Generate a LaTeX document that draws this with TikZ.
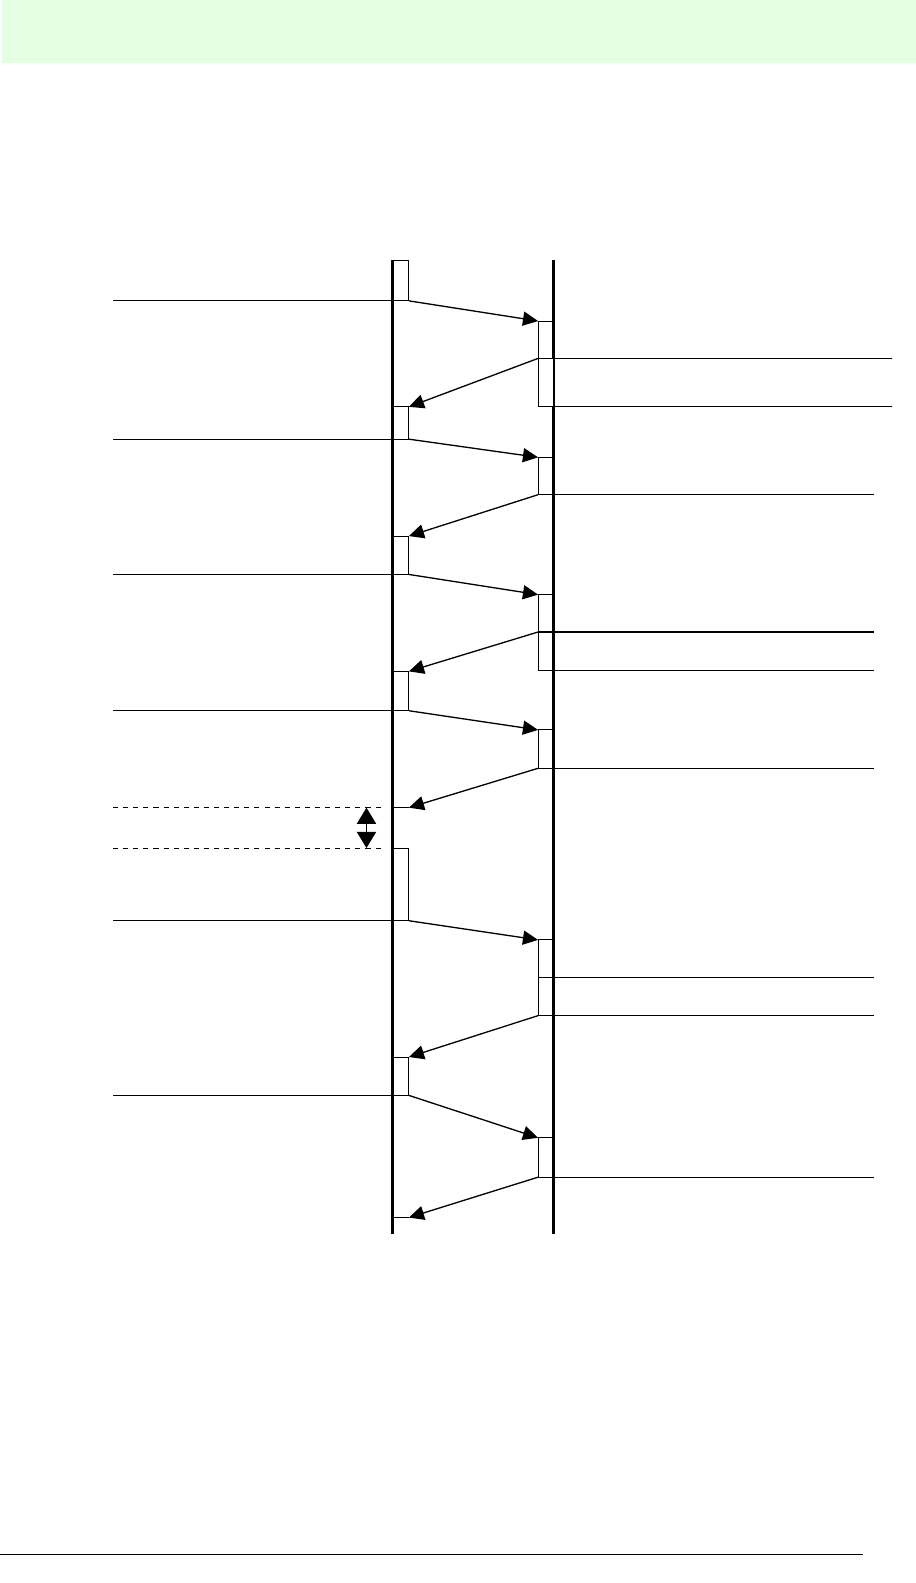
\documentclass[tikz,border=0pt]{standalone}
\usetikzlibrary{arrows.meta}
\definecolor{hdr}{RGB}{226,255,226}
\begin{document}
\begin{tikzpicture}[x=1pt,y=-1pt,
  lifeline/.style={line width=2.8pt},
  actbox/.style={draw,line width=1pt,minimum width=16pt,inner sep=0pt,outer sep=0pt,anchor=north west},
  rbox/.style={actbox,minimum width=15pt},
  msg/.style={line width=1.3pt,-{Triangle[length=15pt,width=14pt]}},
  tick/.style={line width=1pt},
  dline/.style={line width=1pt,dash pattern=on 5pt off 5pt}]
\useasboundingbox (0,0) rectangle (907,1568);
\fill[hdr] (2,0) rectangle (907,62);
\draw[line width=1.3pt] (0,1540) -- (855,1540);
% left activation boxes
\node[actbox,minimum height=40pt] (L1) at (389,258) {};
\node[actbox,minimum height=32pt] (L2) at (389,403) {};
\node[actbox,minimum height=38pt] (L3) at (389,531) {};
\node[actbox,minimum height=39pt] (L4) at (389,665) {};
\node[actbox,minimum height=72pt] (L5) at (389,840) {};
\node[actbox,minimum height=38pt] (L6) at (389,1047) {};
% right activation boxes
\node[rbox,minimum height=37pt] (R1a) at (533,318) {};
\node[rbox,minimum height=37pt] (R2) at (533,453) {};
\node[rbox,minimum height=37pt] (R3a) at (533,589) {};
\node[rbox,minimum height=38pt] (R3b) at (533,626) {};
\node[rbox,minimum height=38pt] (R4) at (533,723) {};
\node[rbox,minimum height=37pt] (R5a) at (533,931) {};
\node[rbox,minimum height=38pt] (R5b) at (533,968) {};
\node[rbox,minimum height=39pt] (R6) at (533,1127) {};
% lifelines
\coordinate (Lt) at (389,258); \coordinate (Lb) at (389,1222);
\coordinate (Rt) at (548,258); \coordinate (Rb) at (548,1222);
\draw[lifeline] (Lt) -- (Lb);
\draw[lifeline] (Rt) -- (Rb);
\node[rbox,fill=white,minimum height=48pt] (R1b) at (533,355) {};
% free ends
\coordinate (E1) at (405,800); \coordinate (E1l) at (389,800);
\coordinate (E2) at (405,1206); \coordinate (E2l) at (389,1206);
\draw[tick] (E1l) -- (E1);
\draw[tick] (E2l) -- (E2);
% messages
\draw[msg] (L1.south east) -- (R1a.north west);
\draw[msg] (R1a.south west) -- (L2.north east);
\draw[msg] (L2.south east) -- (R2.north west);
\draw[msg] (R2.south west) -- (L3.north east);
\draw[msg] (L3.south east) -- (R3a.north west);
\draw[msg] (R3a.south west) -- (L4.north east);
\draw[msg] (L4.south east) -- (R4.north west);
\draw[msg] (R4.south west) -- (E1);
\draw[msg] (L5.south east) -- (R5a.north west);
\draw[msg] (R5b.south west) -- (L6.north east);
\draw[msg] (L6.south east) -- (R6.north west);
\draw[msg] (R6.south west) -- (E2);
% left leader lines
\foreach \n in {L1,L2,L3,L4,L5,L6} {
  \coordinate (\n x) at (\n.south west -| 112,0);
  \draw[tick] (\n x) -- (\n.south west);
}
% right leader lines
\coordinate (r1) at (R1a.south east -| 884,0);
\draw[tick] (R1a.south east) -- (r1);
\coordinate (r2) at (R1b.south east -| 884,0);
\draw[tick] (R1b.south east) -- (r2);
\foreach \n in {R2,R3a,R3b,R4,R5a,R5b,R6} {
  \coordinate (\n x) at (\n.south east -| 866,0);
  \draw[tick] (\n.south east) -- (\n x);
}
% dashed interval
\coordinate (D1a) at (112,800); \coordinate (D1b) at (378,800);
\coordinate (D2a) at (112,840); \coordinate (D2b) at (378,840);
\draw[dline] (D1a) -- (D1b);
\draw[dline] (D2a) -- (D2b);
\coordinate (G1) at (363,800); \coordinate (G2) at (363,840);
\draw[line width=1.3pt,{Triangle[length=16pt,width=19pt]}-{Triangle[length=16pt,width=19pt]}] (G1) -- (G2);
\end{tikzpicture}
\end{document}
